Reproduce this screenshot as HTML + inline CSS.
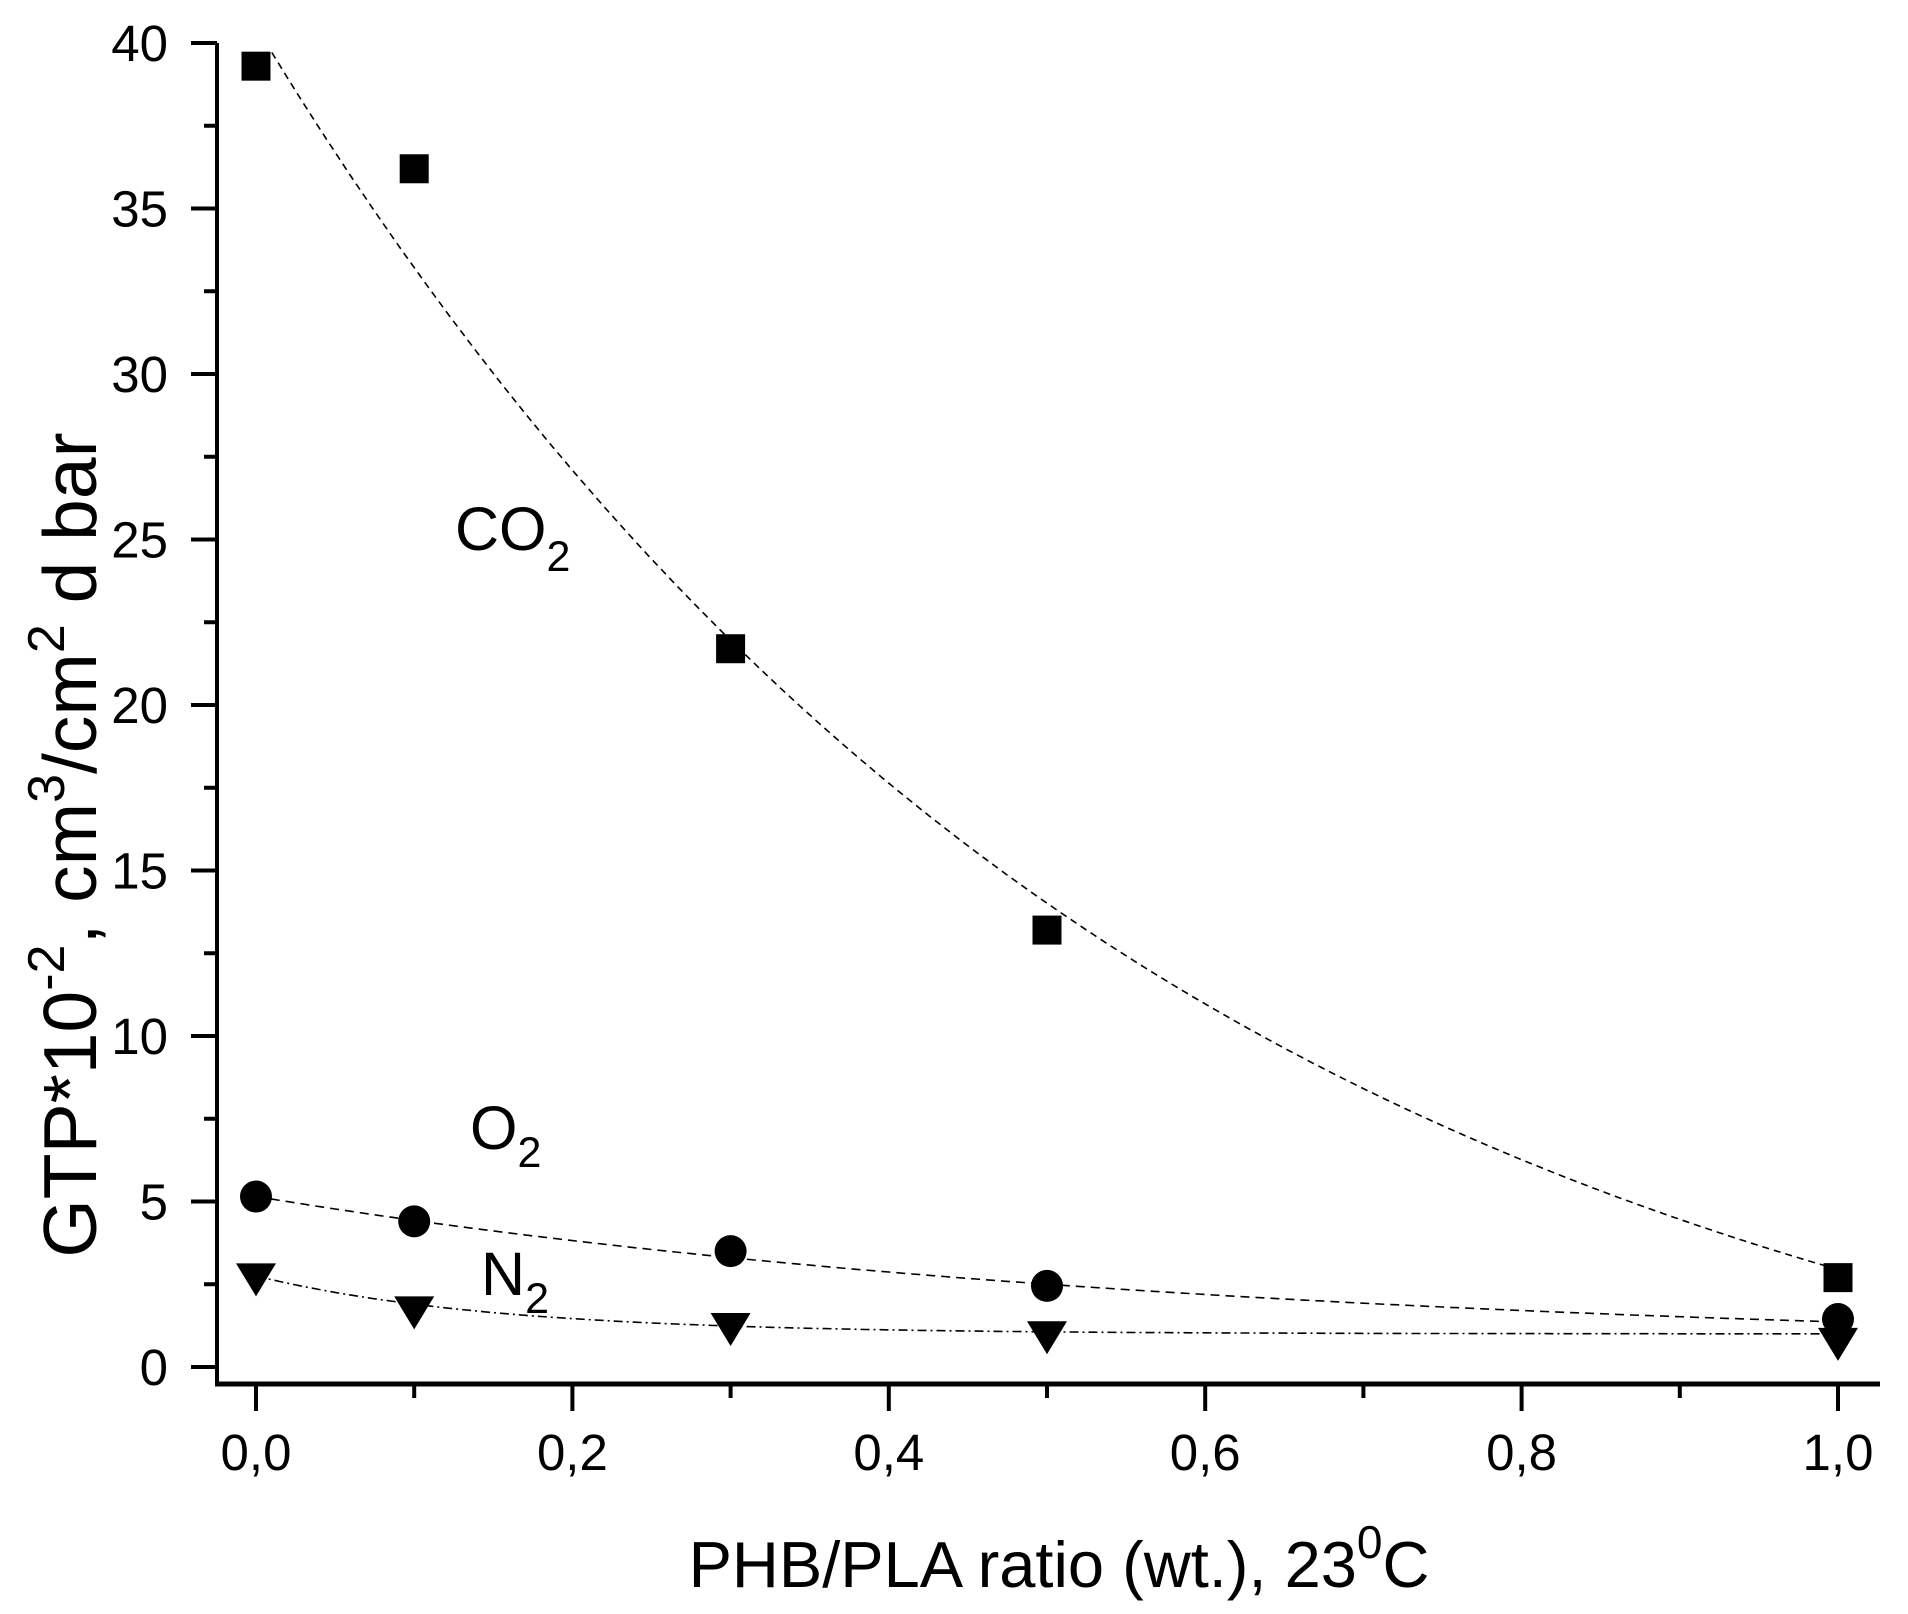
<!DOCTYPE html>
<html><head><meta charset="utf-8"><style>
html,body{margin:0;padding:0;background:#fff}
svg{display:block}
text{font-family:"Liberation Sans",Arial,sans-serif;fill:#000}
</style></head><body>
<svg id="chart" width="1908" height="1614" viewBox="0 0 1908 1614" xmlns="http://www.w3.org/2000/svg">
<g id="axes"></g>
<g id="curves"></g>
<g id="marks"></g>
<text x="455" y="550" font-size="61">CO<tspan font-size="43" dy="21">2</tspan></text>
<text x="470" y="1149" font-size="61">O<tspan font-size="43" dy="18">2</tspan></text>
<text x="481" y="1295" font-size="61">N<tspan font-size="43" dy="18">2</tspan></text>
<text x="1059" y="1587" font-size="65" text-anchor="middle">PHB/PLA ratio (wt.), 23<tspan font-size="46" dy="-29">0</tspan><tspan dy="29">C</tspan></text>
<text transform="translate(96,845) rotate(-90)" font-size="75" text-anchor="middle">GTP*10<tspan font-size="52" dy="-32">-2</tspan><tspan dy="32">, cm</tspan><tspan font-size="52" dy="-32">3</tspan><tspan dy="32">/cm</tspan><tspan font-size="52" dy="-32">2</tspan><tspan dy="32"> d bar</tspan></text>
</svg>
<script>
const xs = [0, 0.1, 0.3, 0.5, 1.0];
const co2 = [39.3, 36.2, 21.7, 13.2, 2.7];
const o2 = [5.15, 4.4, 3.5, 2.45, 1.45];
const n2 = [2.8, 1.8, 1.3, 1.05, 0.85];
const co2Fit = [-5, 45.5, 0.573];
const o2Fit = [0.5, 4.65, 0.593];
const n2Fit = [1.0, 1.75, 0.15];
const yTicks = [0, 5, 10, 15, 20, 25, 30, 35, 40];
const xTicks = [0, 0.2, 0.4, 0.6, 0.8, 1.0];
const xTickLabels = ["0,0", "0,2", "0,4", "0,6", "0,8", "1,0"];

const NS = "http://www.w3.org/2000/svg";
const X = v => 256 + v * 1582;
const Y = v => 1367 - v * 33.1;
function mk(tag, attrs, parent) {
  const e = document.createElementNS(NS, tag);
  for (const k in attrs) e.setAttribute(k, attrs[k]);
  parent.appendChild(e);
  return e;
}
const axes = document.getElementById('axes');
const curves = document.getElementById('curves');
const marks = document.getElementById('marks');

let l = mk('line', {x1: 217, y1: 43, x2: 217, y2: 1386, stroke: '#000', 'stroke-width': 4}, axes);


l = mk('line', {x1: 215, y1: 1384, x2: 1880, y2: 1384, stroke: '#000', 'stroke-width': 5}, axes);



yTicks.forEach((v, i) => {
  const t = mk('line', {x1: 191, y1: Y(v), x2: 217, y2: Y(v), stroke: '#000', 'stroke-width': 4}, axes);
  
  
  if (i < yTicks.length - 1) {
    const m = mk('line', {x1: 204, y1: Y(v + 2.5), x2: 217, y2: Y(v + 2.5), stroke: '#000', 'stroke-width': 4}, axes);
    
    
  }
  const tx = mk('text', {x: 168, y: Y(v) + 18, 'font-size': 51, 'text-anchor': 'end'}, axes);
  tx.textContent = String(v);
  
  
});
xTicks.forEach((v, i) => {
  const t = mk('line', {x1: X(v), y1: 1384, x2: X(v), y2: 1411, stroke: '#000', 'stroke-width': 4}, axes);
  
  
  if (i < xTicks.length - 1) {
    const m = mk('line', {x1: X(v + 0.1), y1: 1384, x2: X(v + 0.1), y2: 1398, stroke: '#000', 'stroke-width': 4}, axes);
    
    
  }
  const tx = mk('text', {x: X(v), y: 1470, 'font-size': 51, 'text-anchor': 'middle'}, axes);
  tx.textContent = xTickLabels[i];
  
  
});

function fitPath(p, x0, dash, name) {
  let d = '';
  for (let k = 0; k <= 200; k++) {
    const x = x0 + (1 - x0) * k / 200;
    const y = p[0] + p[1] * Math.exp(-x / p[2]);
    d += (k ? 'L' : 'M') + X(x).toFixed(1) + ' ' + Y(y).toFixed(1);
  }
  const e = mk('path', {d: d, fill: 'none', stroke: '#000', 'stroke-width': 1.6, 'stroke-dasharray': dash}, curves);
  
  
}
fitPath(co2Fit, 0.01, '7 5', 'co2-fit-curve');
fitPath(o2Fit, 0, '9 6', 'o2-fit-curve');
fitPath(n2Fit, 0, '9 4 2 4', 'n2-fit-curve');

xs.forEach((x, i) => {
  const s = mk('rect', {x: X(x) - 14.5, y: Y(co2[i]) - 14.5, width: 29, height: 29, fill: '#000'}, marks);
  
  
  const c = mk('circle', {cx: X(x), cy: Y(o2[i]), r: 16, fill: '#000'}, marks);
  
  
  const cx = X(x), cy = Y(n2[i]);
  const t = mk('polygon', {points: `${cx-20},${cy-11} ${cx+20},${cy-11} ${cx},${cy+22}`, fill: '#000'}, marks);
  
  
});
</script>
</body></html>
